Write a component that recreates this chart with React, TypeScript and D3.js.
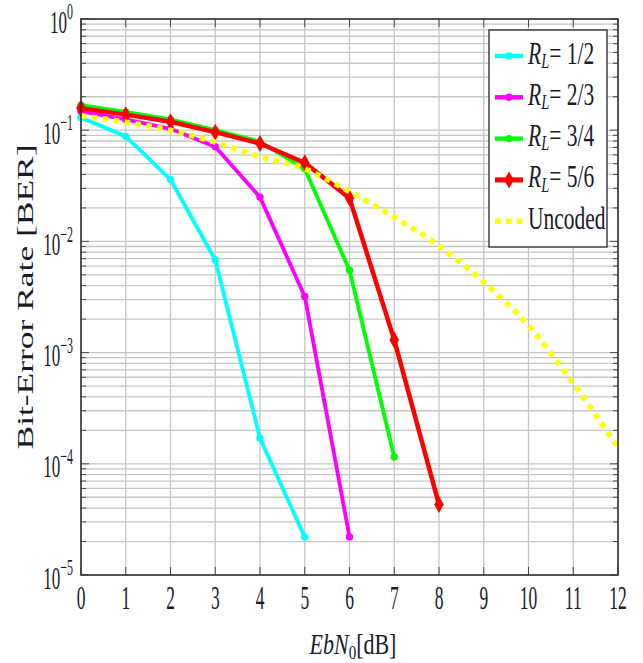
import React from "react";
import * as d3 from "d3";

// Eb/N0 grid (dB) and measured bit-error rates for each code rate
const snrHalf = [0, 1, 2, 3, 4, 5];
const berHalf = [0.13, 0.088, 0.036, 0.0068, 1.7e-4, 2.2e-5];

const snrTwoThirds = [0, 1, 2, 3, 4, 5, 6];
const berTwoThirds = [0.148, 0.125, 0.103, 0.071, 0.025, 0.0032, 2.2e-5];

const snrThreeQuarters = [0, 1, 2, 3, 4, 5, 6, 7];
const berThreeQuarters = [0.168, 0.146, 0.125, 0.1, 0.079, 0.045, 0.0055, 1.15e-4];

const snrFiveSixths = [0, 1, 2, 3, 4, 5, 6, 7, 8];
const berFiveSixths = [0.158, 0.138, 0.119, 0.096, 0.076, 0.051, 0.0245, 1.3e-3, 4.3e-5];

const snrUncoded = [0, 1, 2, 3, 4, 5, 6, 7, 8, 9, 10, 11, 12];
const berUncoded = [0.135, 0.118, 0.1, 0.078, 0.058, 0.045, 0.028, 0.0165, 0.0091, 0.0043, 0.00175, 5.3e-4, 1.4e-4];

const xTickValues = [0, 1, 2, 3, 4, 5, 6, 7, 8, 9, 10, 11, 12];
const yDecadeExponents = [0, -1, -2, -3, -4, -5];
const legendFractions = ["1/2", "2/3", "3/4", "5/6"];

const W = 643;
const H = 663;
const plot = { left: 81, right: 618, top: 19, bottom: 575 };
const FONT = "'Liberation Serif', 'DejaVu Serif', serif";

const x = d3.scaleLinear().domain([0, 12]).range([plot.left, plot.right]);
const y = d3.scaleLog().domain([1e-5, 1]).range([plot.bottom, plot.top]);

type Series = {
  snr: number[];
  ber: number[];
  color: string;
  width: number;
  marker: "circle" | "diamond" | "none";
  dashed?: boolean;
};

const series: Series[] = [
  { snr: snrHalf, ber: berHalf, color: "#00ffff", width: 3.8, marker: "circle" },
  { snr: snrTwoThirds, ber: berTwoThirds, color: "#ff00ff", width: 3.8, marker: "circle" },
  { snr: snrThreeQuarters, ber: berThreeQuarters, color: "#00ff00", width: 3.8, marker: "circle" },
  { snr: snrFiveSixths, ber: berFiveSixths, color: "#ff0000", width: 4.5, marker: "diamond" },
  { snr: snrUncoded, ber: berUncoded, color: "#ffff00", width: 5.5, marker: "none", dashed: true },
];

const minorValues: number[] = [];
for (let e = -5; e < 0; e++) {
  for (let m = 2; m <= 9; m++) minorValues.push(m * Math.pow(10, e));
}

function Marker({ cx, cy, kind, color }: { cx: number; cy: number; kind: string; color: string }) {
  if (kind === "circle") return <circle cx={cx} cy={cy} r={3.7} fill={color} />;
  if (kind === "diamond")
    return (
      <path
        d={`M${cx},${cy - 8.5} L${cx + 4.8},${cy} L${cx},${cy + 8.5} L${cx - 4.8},${cy} Z`}
        fill={color}
      />
    );
  return null;
}

export default function App() {
  const straight = d3.line<[number, number]>().x((d) => x(d[0])).y((d) => y(d[1]));
  const smooth = d3
    .line<[number, number]>()
    .x((d) => x(d[0]))
    .y((d) => y(d[1]))
    .curve(d3.curveMonotoneX);

  const tickColor = "#4a4a4a";
  const gridColor = "#c6c6c6";

  return (
    <svg
      width={W}
      height={H}
      style={{ position: "absolute", left: 0, top: 0, display: "block", background: "#fff" }}
      fontFamily={FONT}
    >
      {/* grid */}
      <g>
        {minorValues.map((v, i) => (
          <line key={"mn" + i} x1={plot.left} x2={plot.right} y1={y(v)} y2={y(v)} stroke={gridColor} strokeWidth={1.3} />
        ))}
        {yDecadeExponents.map((e) => (
          <line key={"mj" + e} x1={plot.left} x2={plot.right} y1={y(Math.pow(10, e))} y2={y(Math.pow(10, e))} stroke={gridColor} strokeWidth={1.3} />
        ))}
        {xTickValues.map((t) => (
          <line key={"vx" + t} x1={x(t)} x2={x(t)} y1={plot.top} y2={plot.bottom} stroke={gridColor} strokeWidth={1.3} />
        ))}
      </g>

      {/* inward ticks */}
      <g stroke={tickColor} strokeWidth={1}>
        {minorValues.map((v, i) => (
          <g key={"tm" + i}>
            <line x1={plot.left} x2={plot.left + 5} y1={y(v)} y2={y(v)} />
            <line x1={plot.right} x2={plot.right - 5} y1={y(v)} y2={y(v)} />
          </g>
        ))}
        {yDecadeExponents.map((e) => (
          <g key={"tM" + e}>
            <line x1={plot.left} x2={plot.left + 8} y1={y(Math.pow(10, e))} y2={y(Math.pow(10, e))} />
            <line x1={plot.right} x2={plot.right - 8} y1={y(Math.pow(10, e))} y2={y(Math.pow(10, e))} />
          </g>
        ))}
        {xTickValues.map((t) => (
          <g key={"tx" + t}>
            <line x1={x(t)} x2={x(t)} y1={plot.bottom} y2={plot.bottom - 8} />
            <line x1={x(t)} x2={x(t)} y1={plot.top} y2={plot.top + 8} />
          </g>
        ))}
      </g>

      {/* data */}
      <g>
        {series.map((s, i) => {
          const pts = s.snr.map((v, j) => [v, s.ber[j]] as [number, number]);
          return (
            <g key={"s" + i}>
              <path
                d={(s.dashed ? smooth : straight)(pts) || ""}
                fill="none"
                stroke={s.color}
                strokeWidth={s.width}
                strokeDasharray={s.dashed ? "5.5 5.5" : undefined}
                strokeLinejoin="round"
              />
              {pts.map((p, j) => (
                <Marker key={j} cx={x(p[0])} cy={y(p[1])} kind={s.marker} color={s.color} />
              ))}
            </g>
          );
        })}
      </g>

      {/* frame */}
      <rect
        x={plot.left}
        y={plot.top}
        width={plot.right - plot.left}
        height={plot.bottom - plot.top}
        fill="none"
        stroke="#333"
        strokeWidth={1.6}
      />

      {/* x tick labels */}
      {xTickValues.map((t) => (
        <g key={"xl" + t} transform={`translate(${x(t)},609) scale(1,1.9)`}>
          <text textAnchor="middle" fontSize={17.5} fill="#1a1a2a">
            {t}
          </text>
        </g>
      ))}

      {/* y tick labels */}
      {yDecadeExponents.map((e) => (
        <g key={"yl" + e} transform={`translate(73,${y(Math.pow(10, e)) + 13.5}) scale(1,1.9)`}>
          <text textAnchor="end" fontSize={17} fill="#1a1a2a">
            <tspan>10</tspan>
            <tspan fontSize={12} dy={-7}>
              {e === 0 ? "0" : "\u2212" + Math.abs(e)}
            </tspan>
          </text>
        </g>
      ))}

      {/* axis titles */}
      <text
        transform={`translate(33,${(plot.top + plot.bottom) / 2}) rotate(-90)`}
        textAnchor="middle"
        fontSize={24}
        textLength={305}
        lengthAdjust="spacingAndGlyphs"
        fill="#1a1a2a"
      >
        Bit-Error Rate [BER]
      </text>
      <g transform="translate(353,654) scale(1,1.3)">
        <text textAnchor="middle" fontSize={22} fill="#1a1a2a">
          <tspan fontStyle="italic">EbN</tspan>
          <tspan fontSize={15} dy={3.5}>0</tspan>
          <tspan dy={-3.5}>[dB]</tspan>
        </text>
      </g>

      {/* legend */}
      <g>
        <rect x={489} y={30} width={118} height={217} fill="#fff" stroke="#333" strokeWidth={1.4} />
        {series.map((s, i) => {
          const cy = 56 + i * 41.3;
          return (
            <g key={"lg" + i}>
              <line
                x1={495}
                x2={523}
                y1={cy}
                y2={cy}
                stroke={s.color}
                strokeWidth={s.dashed ? 5.5 : s.width + 0.6}
                strokeDasharray={s.dashed ? "5.5 5.5" : undefined}
              />
              <Marker cx={509} cy={cy} kind={s.marker} color={s.color} />
              <g transform={`translate(528,${cy + 7.5}) scale(1,1.45)`}>
                {s.dashed ? (
                  <text fontSize={21.5} fill="#1a1a2a">Uncoded</text>
                ) : (
                  <text fontSize={21.5} fill="#1a1a2a">
                    <tspan fontStyle="italic">R</tspan>
                    <tspan fontStyle="italic" fontSize={14.5} dy={3}>L</tspan>
                    <tspan dy={-3}>{"= " + legendFractions[i]}</tspan>
                  </text>
                )}
              </g>
            </g>
          );
        })}
      </g>
    </svg>
  );
}
